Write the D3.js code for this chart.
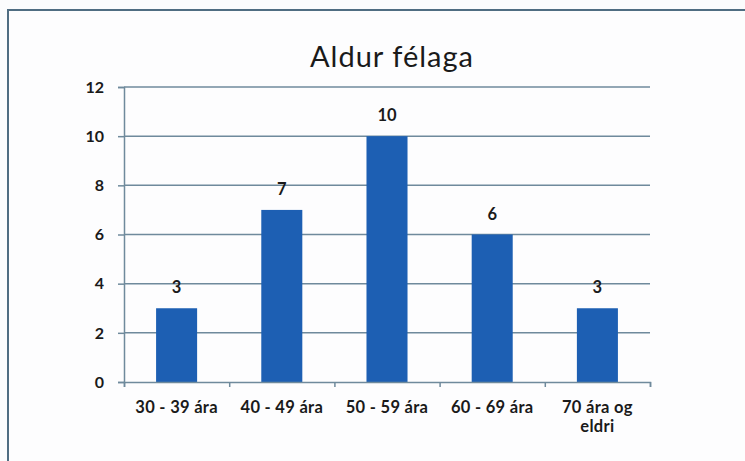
<!DOCTYPE html>
<html>
<head>
<meta charset="utf-8">
<script src="https://cdn.jsdelivr.net/npm/d3@7"></script>
<style>
    body { margin: 0; background: #fbfcfd; }
    svg { display: block; }
    text { font-family: Lato, "Open Sans", sans-serif; fill: #1a1a1a; }
</style>
</head>
<body>
<svg id="chart" width="745" height="461"></svg>
<script>
// Chart data
const categories = ['30 - 39 ára', '40 - 49 ára', '50 - 59 ára', '60 - 69 ára', '70 ára og eldri'];
const values = [3, 7, 10, 6, 3];
const yTicks = [0, 2, 4, 6, 8, 10, 12];

const svg = d3.select('#chart');

// Outer chart frame
svg.append('rect')
    .attr('x', 8).attr('y', 10)
    .attr('width', 760).attr('height', 470)
    .attr('fill', '#fdfdfe')
    .attr('stroke', '#4f6d82')
    .attr('stroke-width', 2);

// Plot area
const margin = { left: 124, right: 650, top: 87, bottom: 382 };

const x = d3.scaleBand()
    .domain(categories)
    .range([margin.left, margin.right])
    .paddingInner(0.61)
    .paddingOuter(0.305);

const y = d3.scaleLinear()
    .domain([0, 12])
    .range([margin.bottom, margin.top]);

// Gridlines
svg.append('g')
    .selectAll('line')
    .data(yTicks.filter(d => d > 0))
    .enter().append('line')
    .attr('x1', margin.left).attr('x2', margin.right)
    .attr('y1', d => y(d)).attr('y2', d => y(d))
    .attr('stroke', '#6f8a9c')
    .attr('stroke-width', 1.5);

// Bars
svg.append('g')
    .selectAll('rect')
    .data(values)
    .enter().append('rect')
    .attr('x', (d, i) => x(categories[i]))
    .attr('width', x.bandwidth())
    .attr('y', d => y(d))
    .attr('height', d => y(0) - y(d))
    .attr('fill', '#1d5fb3');

// Y axis (line + ticks), labels drawn separately
const yAxis = svg.append('g')
    .attr('transform', `translate(${margin.left},0)`)
    .call(d3.axisLeft(y).tickValues(yTicks).tickSize(6).tickFormat(''));
yAxis.select('.domain').attr('stroke', '#6f8a9c').attr('stroke-width', 1.5);
yAxis.selectAll('.tick line').attr('stroke', '#6f8a9c').attr('stroke-width', 1.5);

svg.append('g')
    .selectAll('text')
    .data(yTicks)
    .enter().append('text')
    .attr('x', margin.left - 20)
    .attr('y', d => y(d))
    .attr('dy', '0.36em')
    .attr('text-anchor', 'end')
    .attr('font-size', 16)
    .attr('font-weight', 'bold')
    .attr('fill', '#1a1a1a')
    .text(d => d);

// X axis with ticks between categories
const xLin = d3.scaleLinear().domain([0, 5]).range([margin.left, margin.right]);
const xAxis = svg.append('g')
    .attr('transform', `translate(0,${margin.bottom})`)
    .call(d3.axisBottom(xLin).ticks(5).tickSize(5).tickFormat(''));
xAxis.select('.domain').attr('stroke', '#6f8a9c').attr('stroke-width', 1.5);
xAxis.selectAll('.tick line').attr('stroke', '#6f8a9c').attr('stroke-width', 1.5);

// Category labels (wrapped like the original)
const wrapped = { '70 ára og eldri': ['70 ára og', 'eldri'] };
const catLabels = svg.append('g')
    .selectAll('text')
    .data(categories)
    .enter().append('text')
    .attr('x', d => x(d) + x.bandwidth() / 2)
    .attr('y', 413)
    .attr('text-anchor', 'middle')
    .attr('font-size', 16.5)
    .attr('font-weight', 'bold')
    .attr('letter-spacing', 0.3)
    .attr('fill', '#222');
catLabels.each(function(d) {
    const lines = wrapped[d] || [d];
    d3.select(this).selectAll('tspan')
        .data(lines)
        .enter().append('tspan')
        .attr('x', x(d) + x.bandwidth() / 2)
        .attr('dy', (l, i) => i === 0 ? 0 : 19)
        .text(l => l);
});

// Value labels
svg.append('g')
    .selectAll('text')
    .data(values)
    .enter().append('text')
    .attr('x', (d, i) => x(categories[i]) + x.bandwidth() / 2)
    .attr('y', d => y(d) - 15)
    .attr('text-anchor', 'middle')
    .attr('font-size', 16.5)
    .attr('font-weight', 'bold')
    .attr('fill', '#222')
    .text(d => d);

// Title
svg.append('text')
    .attr('x', 392)
    .attr('y', 67)
    .attr('text-anchor', 'middle')
    .attr('font-size', 29)
    .attr('letter-spacing', 1)
    .attr('fill', '#111')
    .text('Aldur félaga');
</script>
</body>
</html>
